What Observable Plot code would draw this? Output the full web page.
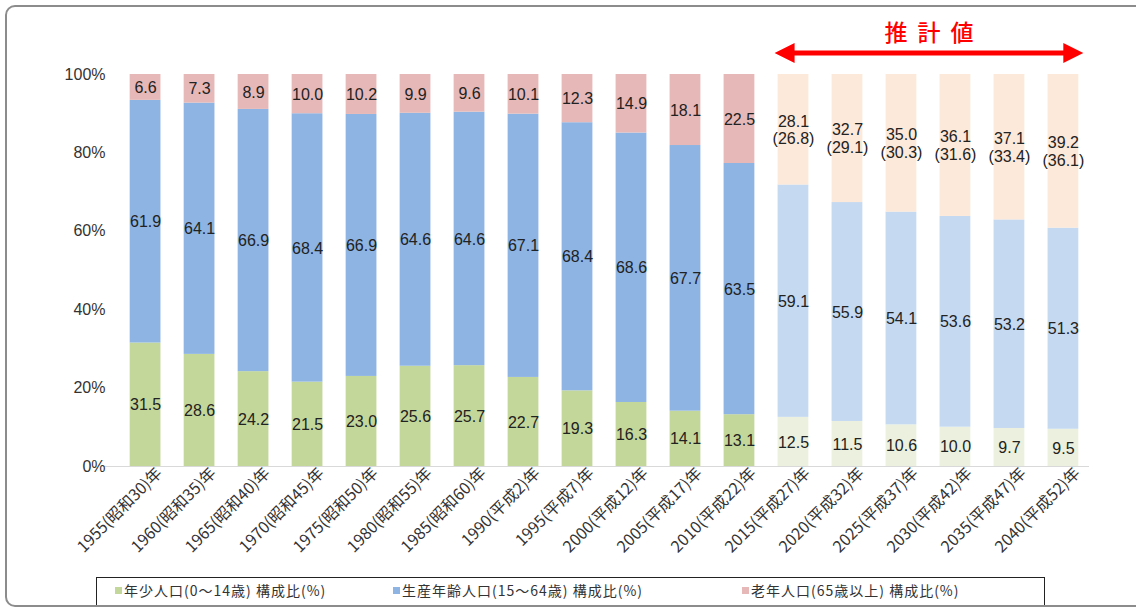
<!DOCTYPE html>
<html>
<head>
<meta charset="utf-8">
<script src="https://cdn.jsdelivr.net/npm/d3@7"></script>
<script src="https://cdn.jsdelivr.net/npm/@observablehq/plot@0.6"></script>
<style>
  html, body { margin: 0; padding: 0; background: #fff; width: 1136px; height: 610px; overflow: hidden; }
  body { position: relative; font-family: "Noto Sans CJK JP", "Noto Sans", sans-serif; }
  #frame { position: absolute; left: 5px; top: 5px; width: 1150px; height: 602px; border: 2px solid #8c8c8c; border-radius: 10px; box-sizing: border-box; pointer-events: none; }
  #chart { position: absolute; left: 0; top: 0; }
  #legend { position: absolute; left: 96px; top: 577px; width: 949px; height: 30px; border: 1px solid #222; border-bottom: none; box-sizing: border-box; font-size: 14px; letter-spacing: 1px; color: #333; }
  #legend span.item { position: absolute; top: 2px; white-space: nowrap; }
  #legend span.sw { display: inline-block; width: 7px; height: 7px; margin-right: 2px; vertical-align: 2px; }
</style>
</head>
<body>
<div id="chart"></div>
<div id="legend"></div>
<div id="frame"></div>
<script>
const years = ["1955(昭和30)年","1960(昭和35)年","1965(昭和40)年","1970(昭和45)年","1975(昭和50)年","1980(昭和55)年","1985(昭和60)年","1990(平成2)年","1995(平成7)年","2000(平成12)年","2005(平成17)年","2010(平成22)年","2015(平成27)年","2020(平成32)年","2025(平成37)年","2030(平成42)年","2035(平成47)年","2040(平成52)年"];
const young   = [31.5, 28.6, 24.2, 21.5, 23.0, 25.6, 25.7, 22.7, 19.3, 16.3, 14.1, 13.1, 12.5, 11.5, 10.6, 10.0, 9.7, 9.5];
const working = [61.9, 64.1, 66.9, 68.4, 66.9, 64.6, 64.6, 67.1, 68.4, 68.6, 67.7, 63.5, 59.1, 55.9, 54.1, 53.6, 53.2, 51.3];
const old     = [6.6, 7.3, 8.9, 10.0, 10.2, 9.9, 9.6, 10.1, 12.3, 14.9, 18.1, 22.5, 28.1, 32.7, 35.0, 36.1, 37.1, 39.2];
const oldAlt  = [null, null, null, null, null, null, null, null, null, null, null, null, 26.8, 29.1, 30.3, 31.6, 33.4, 36.1];
const firstEstimate = 12; // 2015 onward are estimates (推計値)
const seriesNames = ["年少人口(0～14歳) 構成比(%)", "生産年齢人口(15～64歳) 構成比(%)", "老年人口(65歳以上) 構成比(%)"];
const seriesKeys = ["young", "working", "old"];
const colorKeys = ["young", "working", "old", "young-est", "working-est", "old-est"];
const colorRange = ["#c4d79b", "#8db4e2", "#e6b8b7", "#ebf1de", "#c5d9f1", "#fde9d9"];
const yTicks = [0, 20, 40, 60, 80, 100];

const rows = [];
years.forEach((yr, i) => {
  const est = i >= firstEstimate;
  const vals = [young[i], working[i], old[i]];
  seriesKeys.forEach((k, j) => {
    let label = vals[j].toFixed(1);
    if (k === "old" && oldAlt[i] != null) label += "\n(" + oldAlt[i].toFixed(1) + ")";
    rows.push({year: yr, series: k, value: vals[j], key: est ? k + "-est" : k, label});
  });
});

const numFont = "'Liberation Sans', Arial, sans-serif";
const chart = Plot.plot({
  width: 1136,
  height: 575,
  marginTop: 74,
  marginBottom: 109,
  marginLeft: 107,
  marginRight: 35,
  style: {fontFamily: "'Noto Sans CJK JP', 'Noto Sans', sans-serif", fontSize: "14px", color: "#333", background: "transparent"},
  x: {domain: years, paddingInner: 0.43, paddingOuter: 0.42, round: false, label: null},
  y: {domain: [0, 1], label: null},
  color: {domain: colorKeys, range: colorRange},
  marks: [
    Plot.barY(rows, Plot.stackY({offset: "normalize", x: "year", y: "value", z: "series", fill: "key"})),
    Plot.ruleY([0], {stroke: "#d9d9d9", insetLeft: -4, insetRight: 12}),
    Plot.text(rows, Plot.stackY({offset: "normalize", x: "year", y: "value", z: "series", text: "label",
      fontSize: 16, fontFamily: numFont, fill: "#222", lineHeight: 1.1, letterSpacing: 1})),
    Plot.axisY({ticks: yTicks.map(d => d / 100), tickSize: 0, tickPadding: 2, tickFormat: d => Math.round(d * 100) + "%",
      fontSize: 16, fontFamily: numFont, letterSpacing: 1.5, fill: "#333"}),
    Plot.axisX({tickSize: 0, tickRotate: -45, tickPadding: 4, dx: 14, fontSize: 16, letterSpacing: 2, fill: "#333"})
  ]
});
document.getElementById("chart").appendChild(chart);

// 推計値 annotation (arrow spanning the estimate bars)
const sx = chart.scale("x");
const xStart = sx.apply(years[firstEstimate]) - 3;
const xEnd = sx.apply(years[years.length - 1]) + sx.bandwidth + 5;
const yArrow = 53, head = 20, half = 10, shaft = 2.5;
const g = d3.select(chart).append("g").attr("fill", "#ff0000");
g.append("polygon").attr("points", [
  [xStart, yArrow], [xStart + head, yArrow - half], [xStart + head, yArrow - shaft],
  [xEnd - head, yArrow - shaft], [xEnd - head, yArrow - half], [xEnd, yArrow],
  [xEnd - head, yArrow + half], [xEnd - head, yArrow + shaft],
  [xStart + head, yArrow + shaft], [xStart + head, yArrow + half]
].map(p => p.join(",")).join(" "));
g.append("text").attr("x", (xStart + xEnd) / 2 + 5).attr("y", 41)
  .attr("text-anchor", "middle").attr("font-size", 23).attr("font-weight", 500)
  .attr("letter-spacing", 10).text("推計値");

// legend
const legend = document.getElementById("legend");
const legendX = [18, 296, 645];
seriesNames.forEach((name, j) => {
  const s = document.createElement("span");
  s.className = "item";
  s.style.left = legendX[j] + "px";
  s.innerHTML = `<span class="sw" style="background:${colorRange[j]}"></span>${name}`;
  legend.appendChild(s);
});
</script>
</body>
</html>
